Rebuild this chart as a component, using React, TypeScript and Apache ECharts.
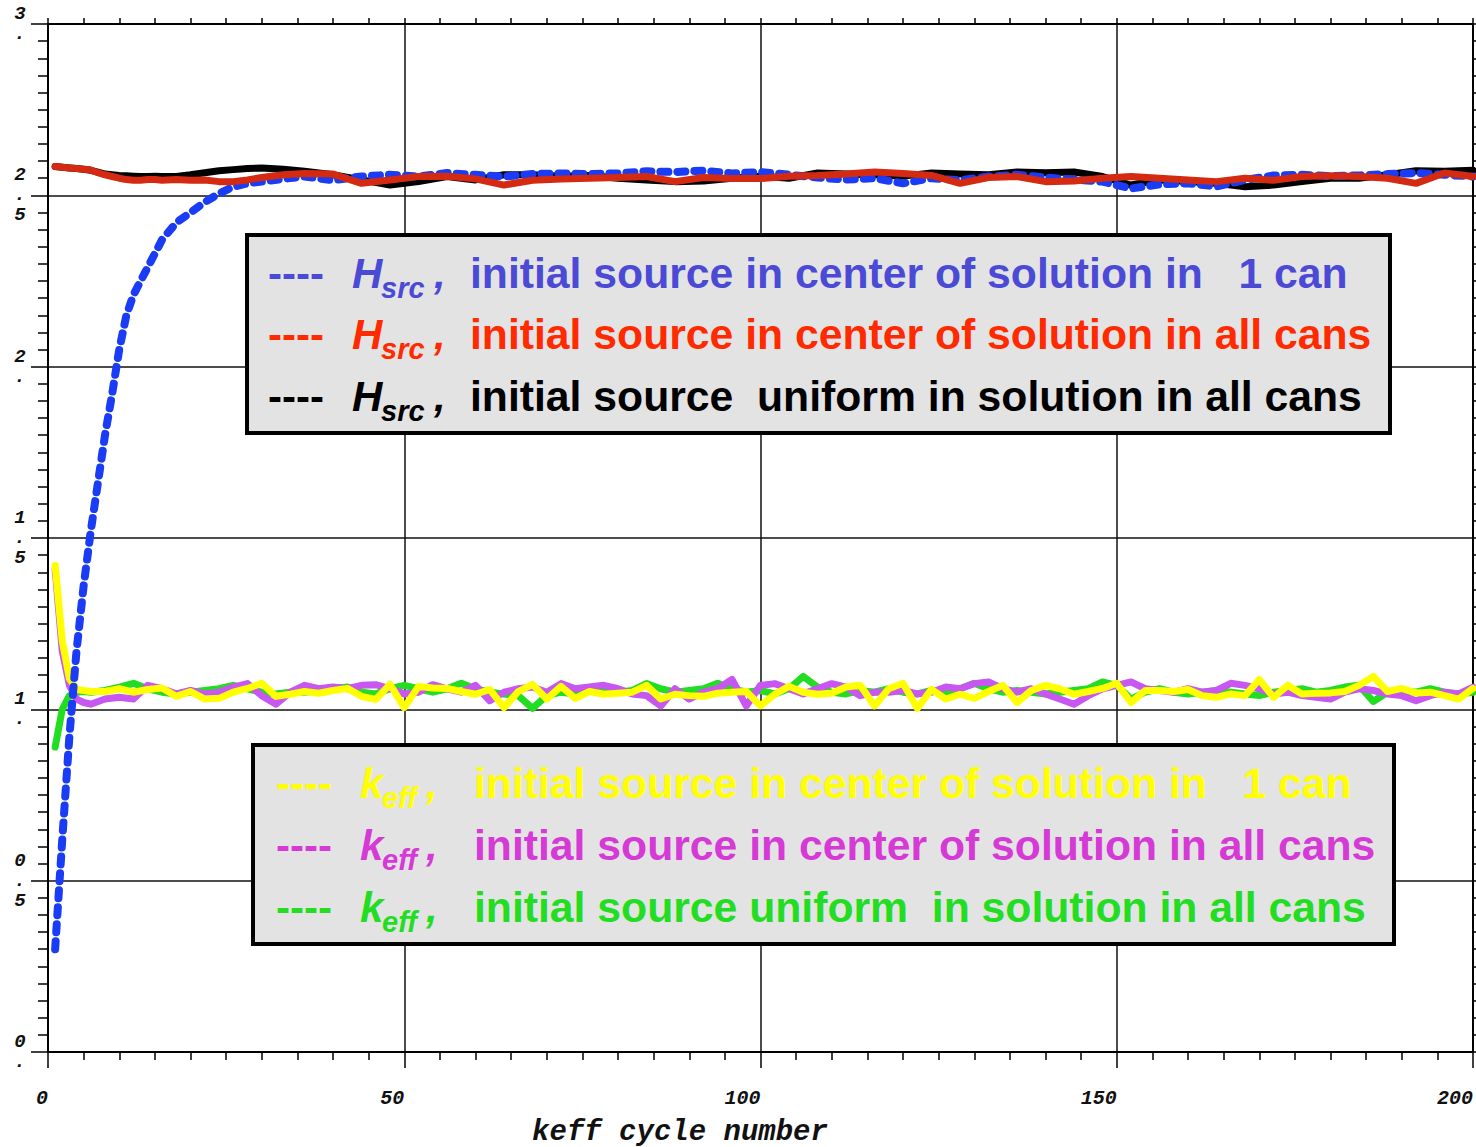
import React, { useEffect, useRef } from "react";
import * as echarts from "echarts";

// ---------- data ----------
const hCycles = [1, 2, 3, 4, 5, 6, 7, 8, 9, 10, 11, 12, 13, 14, 15, 16, 18, 20, 22, 24, 26, 28, 30, 33, 36,
  40, 44, 48, 52, 56, 60, 64, 68, 72, 76, 80, 84, 88, 92, 96, 100, 104, 108, 112, 116, 120, 124, 128, 132,
  136, 140, 144, 148, 152, 156, 160, 164, 168, 172, 176, 180, 184, 188, 192, 196, 200];

const hsrcOneCan = [0.30, 0.62, 0.92, 1.17, 1.36, 1.52, 1.66, 1.80, 1.92, 2.05, 2.15, 2.21, 2.25, 2.29, 2.33, 2.37,
  2.42, 2.45, 2.48, 2.505, 2.525, 2.535, 2.54, 2.548, 2.555,
  2.544, 2.555, 2.56, 2.555, 2.565, 2.56, 2.555, 2.562, 2.564, 2.562,
  2.564, 2.57, 2.568, 2.572, 2.564, 2.568, 2.56, 2.552, 2.546, 2.55,
  2.535, 2.55, 2.544, 2.555, 2.56, 2.552, 2.546, 2.54, 2.52, 2.532,
  2.535, 2.526, 2.545, 2.558, 2.56, 2.556, 2.558, 2.562, 2.565, 2.56, 2.555];

const hsrcAllCans = [2.584, 2.582, 2.58, 2.578, 2.576, 2.574, 2.566, 2.56, 2.555, 2.55, 2.546, 2.544, 2.544, 2.546, 2.546, 2.544,
  2.546, 2.544, 2.545, 2.54, 2.54, 2.545, 2.552, 2.56, 2.564,
  2.562, 2.535, 2.545, 2.555, 2.556, 2.548, 2.53, 2.544, 2.548, 2.55,
  2.552, 2.555, 2.54, 2.552, 2.549, 2.549, 2.556, 2.558, 2.562, 2.568,
  2.564, 2.558, 2.535, 2.552, 2.555, 2.54, 2.542, 2.55, 2.555, 2.55,
  2.545, 2.54, 2.55, 2.544, 2.555, 2.557, 2.555, 2.55, 2.535, 2.565, 2.555];

const hsrcUniform = [2.584, 2.582, 2.58, 2.578, 2.576, 2.573, 2.568, 2.562, 2.56, 2.558, 2.557, 2.556, 2.555, 2.555, 2.556, 2.555,
  2.555, 2.56, 2.566, 2.572, 2.575, 2.578, 2.58, 2.576, 2.57,
  2.56, 2.545, 2.53, 2.54, 2.555, 2.545, 2.56, 2.56, 2.556, 2.558,
  2.55, 2.545, 2.54, 2.542, 2.55, 2.556, 2.55, 2.565, 2.562, 2.56,
  2.556, 2.565, 2.562, 2.56, 2.568, 2.566, 2.568, 2.555, 2.53, 2.545,
  2.54, 2.535, 2.525, 2.53, 2.54, 2.55, 2.55, 2.56, 2.572, 2.57, 2.573];

const kCycles = [1, 2, 3, 4, 5, 6, 8, 10, 12, 14, 16, 18, 20, 22, 24, 26, 28, 30, 32, 34, 36, 38, 40, 42, 44, 46,
  48, 50, 52, 54, 56, 58, 60, 62, 64, 66, 68, 70, 72, 74, 76, 78, 80, 82, 84, 86, 88, 90, 92, 94, 96, 98,
  100, 102, 104, 106, 108, 110, 112, 114, 116, 118, 120, 122, 124, 126, 128, 130, 132, 134, 136, 138, 140,
  142, 144, 146, 148, 150, 152, 154, 156, 158, 160, 162, 164, 166, 168, 170, 172, 174, 176, 178, 180, 182,
  184, 186, 188, 190, 192, 194, 196, 198, 200];

const keffOneCan = [1.42, 1.20, 1.09, 1.058, 1.055, 1.052,
  1.052, 1.06, 1.05, 1.058, 1.062, 1.038, 1.052, 1.03, 1.032, 1.05,
  1.061, 1.076, 1.038, 1.044, 1.052, 1.047, 1.055, 1.061, 1.038, 1.029,
  1.073, 1.005, 1.067, 1.062, 1.061, 1.052, 1.044, 1.058, 1.005, 1.052,
  1.073, 1.03, 1.067, 1.032, 1.052, 1.044, 1.047, 1.05, 1.07, 1.03,
  1.044, 1.04, 1.038, 1.047, 1.05, 1.052, 1.01, 1.044, 1.067, 1.05,
  1.044, 1.047, 1.065, 1.07, 1.01, 1.06, 1.076, 1.003, 1.058, 1.03,
  1.044, 1.032, 1.052, 1.07, 1.02, 1.055, 1.07, 1.06, 1.044, 1.052,
  1.061, 1.076, 1.02, 1.055, 1.055, 1.052, 1.058, 1.04, 1.035, 1.045,
  1.04, 1.087, 1.035, 1.07, 1.045, 1.047, 1.048, 1.052, 1.07, 1.096,
  1.052, 1.061, 1.048, 1.05, 1.04, 1.03, 1.061];

const keffAllCans = [1.41, 1.17, 1.07, 1.03, 1.02, 1.015,
  1.03, 1.035, 1.03, 1.07, 1.06, 1.045, 1.055, 1.045, 1.05, 1.065,
  1.075, 1.04, 1.015, 1.05, 1.07, 1.06, 1.065, 1.06, 1.07, 1.072,
  1.06, 1.045, 1.05, 1.072, 1.06, 1.05, 1.07, 1.025, 1.05, 1.06,
  1.065, 1.05, 1.075, 1.06, 1.065, 1.07, 1.06, 1.045, 1.04, 1.01,
  1.06, 1.03, 1.05, 1.06, 1.087, 1.01, 1.07, 1.075, 1.06, 1.045,
  1.06, 1.075, 1.065, 1.04, 1.05, 1.05, 1.055, 1.045, 1.05, 1.065,
  1.06, 1.075, 1.08, 1.06, 1.05, 1.06, 1.045, 1.03, 1.015, 1.04,
  1.06, 1.07, 1.08, 1.06, 1.055, 1.05, 1.06, 1.05, 1.055, 1.076,
  1.07, 1.06, 1.045, 1.05, 1.04, 1.035, 1.03, 1.05, 1.06, 1.055,
  1.045, 1.04, 1.025, 1.04, 1.05, 1.045, 1.065];

const keffUniform = [0.89, 1.0, 1.04, 1.05, 1.052, 1.05,
  1.055, 1.065, 1.076, 1.06, 1.05, 1.045, 1.05, 1.055, 1.06, 1.07,
  1.06, 1.05, 1.045, 1.05, 1.05, 1.055, 1.06, 1.065, 1.05, 1.045,
  1.06, 1.07, 1.06, 1.05, 1.06, 1.076, 1.06, 1.05, 1.045, 1.04,
  1.003, 1.04, 1.05, 1.045, 1.055, 1.05, 1.05, 1.055, 1.075, 1.06,
  1.05, 1.055, 1.06, 1.076, 1.06, 1.05, 1.055, 1.045, 1.06, 1.096,
  1.065, 1.05, 1.045, 1.055, 1.05, 1.06, 1.05, 1.045, 1.055, 1.05,
  1.06, 1.076, 1.06, 1.05, 1.055, 1.05, 1.045, 1.05, 1.055, 1.06,
  1.08, 1.07, 1.03, 1.05, 1.06, 1.05, 1.045, 1.05, 1.055, 1.05,
  1.045, 1.04, 1.05, 1.055, 1.06, 1.05, 1.055, 1.065, 1.07, 1.023,
  1.05, 1.055, 1.05, 1.06, 1.05, 1.045, 1.05];

const yTickLabels = ["0\n.", "0\n.\n5", "1\n.", "1\n.\n5", "2\n.", "2\n.\n5", "3\n."];
const xTitle = "keff cycle number";

const hLegend = [
  { color: "#4a4ad6", text: "initial source in center of solution in   1 can" },
  { color: "#ff2a00", text: "initial source in center of solution in all cans" },
  { color: "#000000", text: "initial source  uniform in solution in all cans" },
];
const kLegend = [
  { color: "#ffff00", text: "initial source in center of solution in   1 can" },
  { color: "#d63ad6", text: "initial source in center of solution in all cans" },
  { color: "#22dd22", text: "initial source uniform  in solution in all cans" },
];

const zip = (xs: number[], ys: number[]) => xs.map((x, i) => [x, ys[i]]);

const SANS = '"Liberation Sans", Arial, Helvetica, sans-serif';
const MONO = '"Liberation Mono", "Courier New", monospace';

function legendRows(rows: { color: string; text: string }[], x0: number, ys: number[], sym: string, symX: number, subX: number, commaX: number, textX: number, sub: string) {
  const els: any[] = [];
  const base = { fontFamily: SANS, fontWeight: "bold", verticalAlign: "middle", align: "left" };
  rows.forEach((r, i) => {
    const y = ys[i];
    els.push({ type: "text", z: 110, x: x0, y, style: { ...base, text: "----", fill: r.color, fontSize: 42 } });
    els.push({ type: "text", z: 110, x: symX, y, style: { ...base, text: sym, fill: r.color, fontStyle: "italic", fontSize: 42 } });
    els.push({ type: "text", z: 110, x: subX, y: y + 15, style: { ...base, text: sub, fill: r.color, fontStyle: "italic", fontSize: 29 } });
    els.push({ type: "text", z: 110, x: commaX, y, style: { ...base, text: ",", fill: r.color, fontStyle: "italic", fontSize: 42 } });
    els.push({ type: "text", z: 110, x: textX, y, style: { ...base, text: r.text, fill: r.color, fontSize: 42.7 } });
  });
  return els;
}

export default function App() {
  const ref = useRef<HTMLDivElement>(null);
  useEffect(() => {
    if (!ref.current) return;
    const chart = echarts.init(ref.current, undefined, { renderer: "svg" });
    const tickStyle = { color: "#000", width: 1.5 };
    const lineBase = { type: "line", showSymbol: false, symbol: "none", smooth: false, xAxisIndex: 0, yAxisIndex: 0 };
    chart.setOption({
      animation: false,
      backgroundColor: "#ffffff",
      grid: { left: 48, top: 20, width: 1426, height: 1032, containLabel: false },
      xAxis: [
        {
          type: "value", min: 0, max: 200, interval: 50, position: "bottom",
          axisLine: { show: true, onZero: false, lineStyle: { color: "#000", width: 2 } },
          axisTick: { show: true, length: 16, lineStyle: tickStyle },
          minorTick: { show: true, splitNumber: 10, length: 8, lineStyle: tickStyle },
          splitLine: { show: true, lineStyle: { color: "#111", width: 1.5 } },
          axisLabel: { show: true, margin: 36, align: "right", fontFamily: MONO, fontStyle: "italic", fontWeight: "bold", fontSize: 20, color: "#111" },
        },
        {
          type: "value", min: 0, max: 200, interval: 50, position: "top",
          axisLine: { show: true, onZero: false, lineStyle: { color: "#000", width: 2 } },
          axisTick: { show: true, length: 6, lineStyle: tickStyle },
          minorTick: { show: true, splitNumber: 10, length: 6, lineStyle: tickStyle },
          splitLine: { show: false },
          axisLabel: { show: false },
        },
      ],
      yAxis: [
        {
          type: "value", min: 0, max: 3, interval: 0.5, position: "left",
          axisLine: { show: true, onZero: false, lineStyle: { color: "#000", width: 2 } },
          axisTick: { show: true, length: 17, lineStyle: tickStyle },
          minorTick: { show: true, splitNumber: 10, length: 10, lineStyle: tickStyle },
          splitLine: { show: true, lineStyle: { color: "#111", width: 1.5 } },
          axisLabel: {
            show: true, margin: 28, align: "center", lineHeight: 20, padding: [8, 0, 0, 0],
            fontFamily: MONO, fontStyle: "italic", fontWeight: "bold", fontSize: 19, color: "#111",
            formatter: (v: number) => yTickLabels[Math.round(v / 0.5)] ?? "",
          },
        },
        {
          type: "value", min: 0, max: 3, interval: 0.5, position: "right",
          axisLine: { show: true, onZero: false, lineStyle: { color: "#000", width: 2 } },
          axisTick: { show: true, length: 6, lineStyle: tickStyle },
          minorTick: { show: true, splitNumber: 10, length: 6, lineStyle: tickStyle },
          splitLine: { show: false },
          axisLabel: { show: false },
        },
      ],
      series: [
        { ...lineBase, name: "keff uniform", data: zip(kCycles, keffUniform), lineStyle: { color: "#22dd22", width: 7, cap: "round", join: "round" } },
        { ...lineBase, name: "keff all cans", data: zip(kCycles, keffAllCans), lineStyle: { color: "#c856f0", width: 7, cap: "round", join: "round" } },
        { ...lineBase, name: "keff 1 can", data: zip(kCycles, keffOneCan), lineStyle: { color: "#ffff00", width: 7, cap: "round", join: "round" } },
        { ...lineBase, name: "Hsrc uniform", data: zip(hCycles, hsrcUniform), lineStyle: { color: "#000000", width: 7, cap: "round", join: "round" } },
        { ...lineBase, name: "Hsrc 1 can", data: zip(hCycles, hsrcOneCan), lineStyle: { color: "#1a3cf5", width: 8, type: [8, 9], cap: "round", join: "round" } },
        { ...lineBase, name: "Hsrc all cans", data: zip(hCycles, hsrcAllCans), lineStyle: { color: "#d42a12", width: 7, cap: "round", join: "round" } },
      ],
      graphic: [
        { type: "rect", z: 100, shape: { x: 247, y: 235, width: 1143, height: 198 }, style: { fill: "#e3e3e3", stroke: "#000", lineWidth: 4 } },
        { type: "rect", z: 100, shape: { x: 253, y: 745, width: 1141, height: 199 }, style: { fill: "#e3e3e3", stroke: "#000", lineWidth: 4 } },
        ...legendRows(hLegend, 268, [273, 334, 396], "H", 352, 381, 434, 470, "src"),
        ...legendRows(kLegend, 276, [783, 845, 907], "k", 360, 382, 426, 474, "eff"),
        { type: "text", x: 680, y: 1132, z: 110, style: { text: xTitle, fill: "#111", fontFamily: MONO, fontStyle: "italic", fontWeight: "bold", fontSize: 29, align: "center", verticalAlign: "middle" } },
      ],
    });
    return () => chart.dispose();
  }, []);
  return <div ref={ref} style={{ position: "absolute", left: 0, top: 0, width: 1476, height: 1147, background: "#fff" }} />;
}
